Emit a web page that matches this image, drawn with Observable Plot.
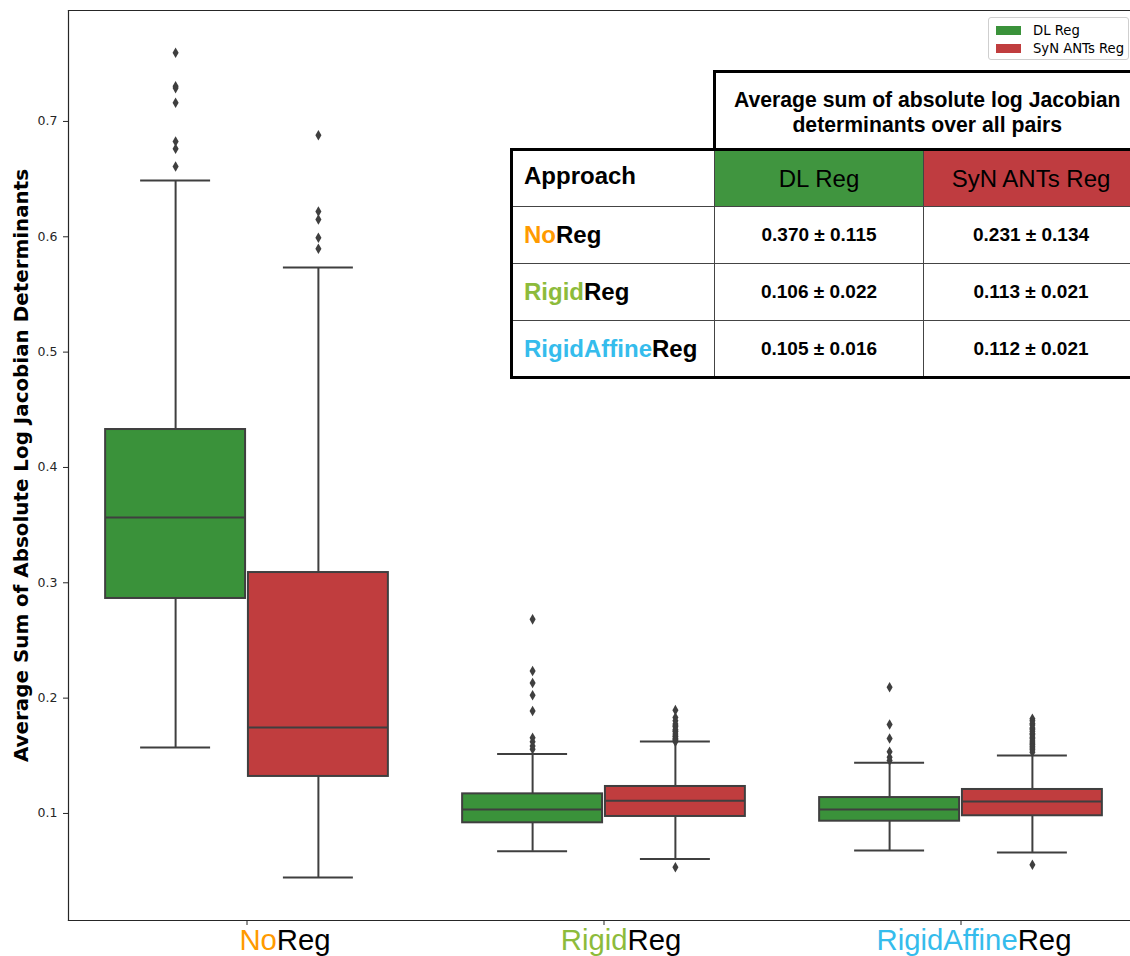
<!DOCTYPE html>
<html>
<head>
<meta charset="utf-8">
<script src="https://cdn.jsdelivr.net/npm/d3@7"></script>
<script src="https://cdn.jsdelivr.net/npm/@observablehq/plot@0.6"></script>
<style>
html, body { margin: 0; padding: 0; background: #fff; overflow: hidden; }
#wrap { position: relative; width: 1130px; height: 956px; overflow: hidden; }
#wrap svg { position: absolute; left: 0; top: 0; }
#legend { position: absolute; left: 988px; top: 17px; width: 141px; height: 43px; box-sizing: border-box;
  border: 1px solid #cfcfcf; border-radius: 3px; background: rgba(255,255,255,0.85);
  font-family: "DejaVu Sans", sans-serif; font-size: 13.2px; color: #000; }
#legend .item { position: absolute; left: 7px; height: 14px; display: flex; align-items: center; }
#legend .sw { width: 25px; height: 9px; margin-right: 12px; box-sizing: border-box; }
#tbl { position: absolute; left: 510px; top: 70px; border-collapse: collapse; table-layout: fixed;
  font-family: "Liberation Sans", Arial, sans-serif; color: #000; }
#tbl td { padding: 0; box-sizing: border-box; }
#tbl .blank { border: none; }
#tbl .hdr { border-left: 3px solid #000; border-top: 3px solid #000; font-weight: bold; font-size: 21.2px;
  line-height: 25px; text-align: center; background: #fff; }
#tbl .cell { border: 1px solid #444; background: #fff; }
#tbl .lab { font-weight: bold; font-size: 24px; text-align: left; padding-left: 11px; border-left: 3px solid #000; }
#tbl .top { border-top: 3px solid #000; }
#tbl .bot { border-bottom: 3px solid #000; }
#tbl .meth { font-size: 24px; text-align: center; }
#tbl .val { font-weight: bold; font-size: 19px; text-align: center; }
</style>
</head>
<body>
<div id="wrap"></div>
<script>
// ---------------- data ----------------
const categories = ["NoReg", "RigidReg", "RigidAffineReg"];
const catPrefix = ["No", "Rigid", "RigidAffine"];
const catSuffix = ["Reg", "Reg", "Reg"];
const prefixColors = ["#ff9a00", "#8dbb3b", "#35bcec"];
const methods = ["DL Reg", "SyN ANTs Reg"];
const methodColors = ["#3a923a", "#c03d3e"];

// DL Reg box statistics (per category)
const dlQ1 = [0.2864, 0.0919, 0.0933];
const dlMedian = [0.3566, 0.1034, 0.1034];
const dlQ3 = [0.4329, 0.1170, 0.1138];
const dlLow = [0.1572, 0.0672, 0.0679];
const dlHigh = [0.6488, 0.1516, 0.1439];
const dlOutliers = [
  [0.7596, 0.7306, 0.7289, 0.7162, 0.6827, 0.6763, 0.6610],
  [0.2683, 0.2236, 0.2132, 0.2025, 0.1888, 0.1657, 0.1622, 0.1585, 0.1556],
  [0.2095, 0.1771, 0.1650, 0.1535, 0.1488, 0.1459]
];

// SyN ANTs Reg box statistics (per category)
const synQ1 = [0.1321, 0.0974, 0.0980];
const synMedian = [0.1746, 0.1110, 0.1104];
const synQ3 = [0.3089, 0.1234, 0.1208];
const synLow = [0.0445, 0.0605, 0.0662];
const synHigh = [0.5734, 0.1625, 0.1503];
const synOutliers = [
  [0.6881, 0.6219, 0.6150, 0.5991, 0.5896],
  [0.0533, 0.1896, 0.1833, 0.1804, 0.1775, 0.1761, 0.1752, 0.1729, 0.1716, 0.1709, 0.1688, 0.1672, 0.1666, 0.1651, 0.1642, 0.1630, 0.1622],
  [0.0555, 0.1821, 0.1803, 0.1781, 0.1768, 0.1742, 0.1731, 0.1712, 0.1694, 0.1683, 0.1661, 0.1648, 0.1629, 0.1612, 0.1598, 0.1583, 0.1567, 0.1552, 0.1531]
];

const yTicks = [0.1, 0.2, 0.3, 0.4, 0.5, 0.6, 0.7];
const yLabel = "Average Sum of Absolute Log Jacobian Determinants";

// table contents
const tableTitle = ["Average sum of absolute log Jacobian", "determinants over all pairs"];
const tableFirstHeader = "Approach";
const dlMean = ["0.370", "0.106", "0.105"];
const dlSd = ["0.115", "0.022", "0.016"];
const synMean = ["0.231", "0.113", "0.112"];
const synSd = ["0.134", "0.021", "0.021"];

// ---------------- build records ----------------
const stats = [
  {q1: dlQ1, med: dlMedian, q3: dlQ3, lo: dlLow, hi: dlHigh, out: dlOutliers},
  {q1: synQ1, med: synMedian, q3: synQ3, lo: synLow, hi: synHigh, out: synOutliers}
];
const boxes = methods.map((m, h) => categories.map((c, i) => ({
  cat: c, method: m, q1: stats[h].q1[i], med: stats[h].med[i], q3: stats[h].q3[i],
  lo: stats[h].lo[i], hi: stats[h].hi[i]
})));
const outliers = methods.map((m, h) => categories.flatMap((c, i) => stats[h].out[i].map(v => ({cat: c, method: m, v}))));

// ---------------- layout ----------------
const W = 1130, H = 956;
const xRange = [68, 1139];            // plot area extends slightly past the right edge
const bw = (xRange[1] - xRange[0]) / categories.length;
const slot = bw * 0.8 / methods.length;
const boxW = slot * 0.98;
const lineColor = "#3f3f3f";

function methodMarks(h) {
  const center = bw * 0.1 + slot * (h + 0.5);
  const dx = center - bw / 2;
  const boxInset = {insetLeft: center - boxW / 2, insetRight: bw - center - boxW / 2};
  const capInset = {insetLeft: center - boxW / 4, insetRight: bw - center - boxW / 4};
  const data = boxes[h];
  return [
    Plot.ruleX(data, {x: "cat", y1: "q3", y2: "hi", dx, stroke: lineColor, strokeWidth: 2}),
    Plot.ruleX(data, {x: "cat", y1: "lo", y2: "q1", dx, stroke: lineColor, strokeWidth: 2}),
    Plot.tickY(data, {x: "cat", y: "hi", ...capInset, stroke: lineColor, strokeWidth: 2}),
    Plot.tickY(data, {x: "cat", y: "lo", ...capInset, stroke: lineColor, strokeWidth: 2}),
    Plot.barY(data, {x: "cat", y1: "q1", y2: "q3", ...boxInset, fill: methodColors[h], stroke: lineColor, strokeWidth: 2}),
    Plot.tickY(data, {x: "cat", y: "med", ...boxInset, stroke: lineColor, strokeWidth: 2}),
    Plot.dot(outliers[h], {x: "cat", y: "v", dx, symbol: "diamond", r: 3.2, fill: lineColor, stroke: "none"})
  ];
}

const labelDx = [38, 17, 13];

const chart = Plot.plot({
  width: W, height: H,
  marginTop: 10, marginBottom: 36, marginLeft: 68, marginRight: 0,
  style: {background: "transparent", fontFamily: "DejaVu Sans, sans-serif", overflow: "visible"},
  x: {type: "band", domain: categories, range: xRange, padding: 0, round: false},
  y: {domain: [0.0072, 0.7962]},
  marks: [
    ...methodMarks(0),
    ...methodMarks(1),
    Plot.frame({anchor: "left", stroke: "#262626", strokeWidth: 1.2}),
    Plot.frame({anchor: "top", stroke: "#262626", strokeWidth: 1.2}),
    Plot.frame({anchor: "bottom", stroke: "#262626", strokeWidth: 1.2}),
    Plot.axisY({ticks: yTicks, tickFormat: d3.format(".1f"), tickSize: 5, tickPadding: 6, fontSize: 12.5, label: null, color: "#262626"}),
    Plot.axisX({tickSize: 5, tickFormat: () => "", label: null, color: "#262626"}),
    ...categories.map((c, i) => Plot.text([c], {
      x: d => d, frameAnchor: "bottom", lineAnchor: "top", dy: 9, dx: labelDx[i],
      fontSize: 29.3, fontFamily: "Liberation Sans, Arial, sans-serif", fill: "#000"
    })),
    Plot.text([yLabel], {frameAnchor: "left", textAnchor: "middle", rotate: -90, dx: -47, fontSize: 19.9, fontWeight: "bold",
      fontFamily: "DejaVu Sans, sans-serif", fill: "#000"})
  ]
});

// color the prefixes of the category labels
const ns = "http://www.w3.org/2000/svg";
chart.querySelectorAll('text').forEach(t => {
  if (t.querySelector("tspan")) return;
  const i = categories.indexOf(t.textContent);
  if (i < 0) return;
  t.textContent = "";
  const a = document.createElementNS(ns, "tspan");
  a.setAttribute("fill", prefixColors[i]);
  a.textContent = catPrefix[i];
  const b = document.createElementNS(ns, "tspan");
  b.setAttribute("fill", "#000");
  b.textContent = catSuffix[i];
  t.appendChild(a); t.appendChild(b);
});

const wrap = document.getElementById("wrap");
wrap.appendChild(chart);

// ---------------- legend ----------------
const legend = document.createElement("div");
legend.id = "legend";
methods.forEach((m, h) => {
  const item = document.createElement("div");
  item.className = "item";
  item.style.top = (5 + h * 18) + "px";
  const sw = document.createElement("span");
  sw.className = "sw";
  sw.style.background = methodColors[h];
  const tx = document.createElement("span");
  tx.textContent = m;
  item.appendChild(sw); item.appendChild(tx);
  legend.appendChild(item);
});
wrap.appendChild(legend);

// ---------------- table ----------------
const tbl = document.createElement("table");
tbl.id = "tbl";
const colW = [203, 209, 215];
const cg = document.createElement("colgroup");
colW.forEach(w => { const c = document.createElement("col"); c.style.width = w + "px"; cg.appendChild(c); });
tbl.appendChild(cg);
tbl.style.width = d3.sum(colW) + "px";

const tr0 = tbl.insertRow();
tr0.style.height = "78px";
const blank = tr0.insertCell(); blank.className = "blank";
const hdr = tr0.insertCell(); hdr.className = "hdr"; hdr.colSpan = 2;
hdr.innerHTML = tableTitle.join("<br>");
hdr.style.paddingTop = "3px";

const tr1 = tbl.insertRow();
tr1.style.height = "57px";
const a0 = tr1.insertCell(); a0.className = "cell lab top"; a0.textContent = tableFirstHeader; a0.style.paddingBottom = "6px";
methods.forEach((m, h) => {
  const c = tr1.insertCell(); c.className = "cell meth top"; c.textContent = m;
  c.style.background = h === 0 ? "#40953f" : "#bf3c40";
});

categories.forEach((cat, i) => {
  const tr = tbl.insertRow();
  tr.style.height = "57px";
  const last = i === categories.length - 1 ? " bot" : "";
  const l = tr.insertCell(); l.className = "cell lab" + last;
  const p = document.createElement("span"); p.style.color = prefixColors[i]; p.textContent = catPrefix[i];
  const s = document.createElement("span"); s.textContent = catSuffix[i];
  l.appendChild(p); l.appendChild(s);
  const v1 = tr.insertCell(); v1.className = "cell val" + last; v1.textContent = dlMean[i] + " \u00b1 " + dlSd[i];
  const v2 = tr.insertCell(); v2.className = "cell val" + last; v2.textContent = synMean[i] + " \u00b1 " + synSd[i];
});
wrap.appendChild(tbl);
</script>
</body>
</html>
